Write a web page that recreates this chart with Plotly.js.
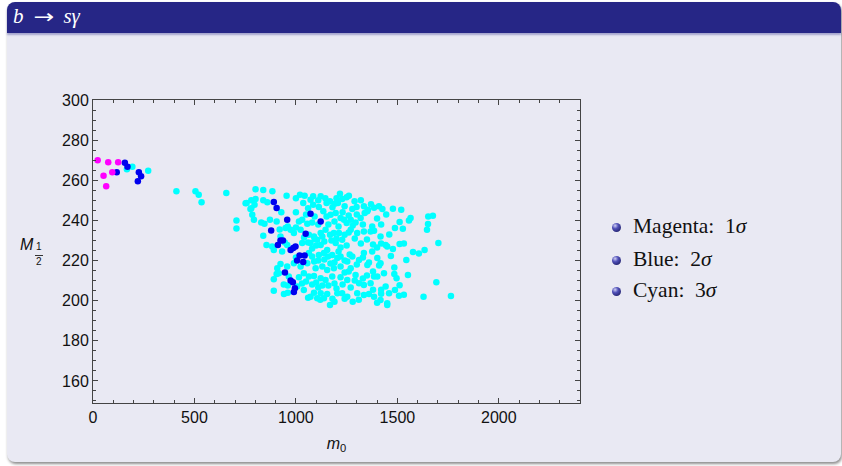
<!DOCTYPE html>
<html><head><meta charset="utf-8">
<script src="https://cdn.plot.ly/plotly-3.0.1.min.js"></script>
<style>
html,body{margin:0;padding:0;background:#fff;}
#wrap{position:relative;width:842px;height:466px;overflow:hidden;}
#block{position:absolute;left:7px;top:2px;width:834px;height:460px;background:#E9E9F3;border-radius:8px;box-shadow:1px 2px 3px rgba(0,0,0,0.45);}
#bar{position:absolute;left:7px;top:2px;width:834px;height:31px;background:#262686;border-radius:8px 8px 0 0;box-shadow:0 2px 2px rgba(38,38,134,0.35);}
#ttl{position:absolute;left:13px;top:5px;color:#fff;font-family:'Liberation Serif',serif;font-size:21px;line-height:22px;white-space:nowrap;}
#ttl .ar{display:inline-block;font-family:'DejaVu Sans',sans-serif;font-size:19px;transform:scaleX(1.3);margin:0 12px 0 12px;}
#plot{position:absolute;left:0;top:0;width:842px;height:466px;}
.item{position:absolute;left:633px;font-family:'Liberation Serif',serif;font-size:21.5px;line-height:24px;color:#111;white-space:nowrap;}
.ball{position:absolute;left:612px;width:9px;height:9px;border-radius:50%;background:radial-gradient(circle at 35% 30%,#d0d0f4 0%,#5050b8 35%,#22226e 80%,#10104a 100%);}
.yt{position:absolute;font-family:'Liberation Sans',Arial,sans-serif;color:#111;white-space:nowrap;}
</style></head>
<body>
<div id="wrap">
  <div id="block"></div>
  <div id="bar"></div>
  <div id="ttl"><i>b</i><span class="ar">→</span><i>sγ</i></div>
  <div id="plot"></div>
  <div class="yt" style="left:20px;top:236px;font-size:16px;font-style:italic;line-height:18px;">M</div>
  <div class="yt" style="left:36px;top:241px;font-size:10px;line-height:11px;">1</div>
  <div style="position:absolute;left:35px;top:255px;width:8px;height:1px;background:#333;"></div>
  <div class="yt" style="left:36px;top:256px;font-size:10px;line-height:11px;">2</div>
  <div class="ball" style="top:223px;"></div>
  <div class="item" style="top:214px;">Magenta:&nbsp; 1<i>σ</i></div>
  <div class="ball" style="top:256px;"></div>
  <div class="item" style="top:247px;">Blue:&nbsp; 2<i>σ</i></div>
  <div class="ball" style="top:287px;"></div>
  <div class="item" style="top:278px;">Cyan:&nbsp; 3<i>σ</i></div>
</div>
<script>
// m0 (x) and M_1/2 (y) values
var cyanX = [194,167,272,411,505,521,535,657,801,839,884,707,707,752,780,780,
757,801,796,839,859,954,1020,1043,1036,1072,1085,1122,1085,1113,1151,1168,1191,1217,1228,1207,1261,1289,1299,1278,1335,1355,1385,1409,1426,
776,785,793,829,845,872,905,928,1015,1031,1056,1092,1135,1151,1171,1196,1220,1237,1250,1270,1294,1319,1339,1352,1376,
839,924,949,974,990,1023,1064,1089,1105,1130,1122,1146,1168,1187,1212,1240,1270,1302,1335,1368,1385,1417,1442,855,883,957,1031,1072,1092,1122,1154,1196,1228,
891,932,1064,1080,1113,1138,1158,1179,1204,1220,1253,1278,1311,1335,1376,1401,1417,908,924,957,990,1023,1056,1097,1130,1154,1187,1220,1270,1294,1352,1385,1434,
916,891,905,965,1015,1039,1064,1089,1122,1146,1179,1220,1253,1311,1335,1368,1401,1442,
891,941,960,1006,1039,1072,1089,1105,1122,1154,1138,1168,1204,1228,1253,1302,1335,1360,1385,1417,1450,1459,
1478,1519,1511,1488,1527,1565,1557,1652,1675,1651,1646,1450,1478,1511,1532,1468,1577,1606,1634,1702,1544,1485,1485,1496,1552,1511,1488,1692,1508,1532,1629,1764,1450,
1000,1060,1110,1145,1180,1240,1250,1320,1370,1200,
1000,1050,1080,1110,1160,1190,1210,1230,1260,1280,1300,1330,1400,1420,1445,960,1000,
1040,1060,1080,1100,1140,1175,1200,1220,1250,1260,1290,1320,1350,1380,1400,1420,1460,920,945,
1000,1090,1110,1140,1170,1190,1210,1240,1265,1300,1330,1360,1380,1410,1260,1240,
940,960,1030,1050,1080,1100,1110,1130,1160,1190,1200,1230,1270,1290,1330,1350,1420,1380,
1060,1120,1180,1190,1240,1280,1310,1420,1400];
var cyanY = [266.7,265.5,264.7,254.5,254.5,252.8,249,253.7,255.5,255.2,254.5,240,236,248.5,250,246,
248.7,250.7,247.8,250,249,252.3,252.8,252.3,248.7,250.3,252,252,247.8,246.7,248.7,249.5,248.3,253.3,250.7,248.7,252.3,249.5,246.7,245.7,247,245.3,246.3,247,245.7,
245.7,242.8,240.3,239,238.3,240.3,239.5,244,239.5,240.3,238.3,242,244.5,242,242.8,243.7,241.2,240.3,238.7,240.3,239,241.2,243.7,244.5,237,
232.3,232,236.2,235.3,233.7,235.3,232.8,232,230.3,232,233.7,235.3,232.8,233.7,233.7,232.8,235.3,233.7,234.5,234.5,234.8,232,227.8,227.8,227,227.8,228.7,228.7,230.7,227.8,225.3,228.7,230.3,
225.3,224.5,223.7,222,222.8,223.7,222,222.8,221.2,222,219.5,222,220.3,223.7,224.5,221.2,218.7,216.2,218.3,217,218.7,217,218.7,216.2,217,215.3,216.2,217,216.2,212.8,217.8,212,213.7,
213.7,210.7,213.3,212,211.7,213.7,212,212.3,211.2,210.3,212,211.7,210.3,208.7,207.8,208.7,212,207,
205,203.3,204,207,205.3,202,204,201.2,203.7,203.3,201.2,197.8,203.7,203.7,202,203.7,202.8,203.3,202,200.3,198.7,203.7,
245.8,245.3,239.2,236.2,235.8,241.2,240,242,242.3,238.2,235.3,227,225.7,228.2,228.5,222.3,224.2,223.5,225.2,228.7,220.3,216.5,213.3,211.2,212.8,207.7,205.3,209.2,202.5,203,202,202.3,197.8,
251,246,250,251,246.5,247,251.5,250,248,251,
244,243,239,238,238,239.5,237,244,242.5,237.5,243,238,241,238,243,237,236.5,
231.5,229,226,227.5,229.5,230,231,226.5,227.5,234,231,228.5,230.5,228,226.5,228.5,233,235.5,229,
221.5,219.5,220,220.5,218.5,219,224.5,220,223,218,221.5,219,214.5,217.5,214.5,214,
208,207.5,208.5,209.5,208,209,206.5,207.5,207.5,208.5,206,208,206.5,210,211,212.5,205.5,205.5,
201.5,200.5,201,199.5,201,199.5,200.5,203.5,199];
var blueX = [157,170,117,226,237,221,
891,905,957,1072,1122,878,1048,911,924,936,974,987,998,1018,1043,1006,1036,946,974,985,995,990];
var blueY = [268.7,266.7,264,264,262,259.5,
249.2,246.2,240.3,243.3,239.5,235,233.3,227.8,230,230,225.3,226.2,227,222.5,222.5,220,219.3,214,210,209.2,206.2,204.3];
var magentaX = [23,75,124,52,95,65];
var magentaY = [270,269,269,262.3,264,257];

var xTicks = [0,500,1000,1500,2000];
var yTicks = [160,180,200,220,240,260,280,300];

function tr(x,y,c){return {type:'scatter',mode:'markers',x:x,y:y,hoverinfo:'skip',
  marker:{color:c,size:6.5,line:{width:0}},showlegend:false};}

var axCommon = {showline:true,linecolor:'#444',linewidth:1,mirror:'ticks',ticks:'inside',ticklen:5,tickcolor:'#444',tickwidth:1,
  showgrid:false,zeroline:false,tickfont:{family:'Liberation Sans, Arial, sans-serif',size:16,color:'#111'}};

var layout = {
  width:842,height:466,
  margin:{l:93,r:262,t:100,b:63,pad:0},
  paper_bgcolor:'rgba(0,0,0,0)',plot_bgcolor:'rgba(0,0,0,0)',
  showlegend:false,
  xaxis:Object.assign({},axCommon,{range:[0,2400],tickvals:xTicks,ticktext:xTicks.map(String),
    minor:{ticks:'inside',ticklen:3,dtick:100,tick0:0,tickcolor:'#444',showgrid:false},
    title:{text:'<i>m</i><sub>0</sub>',font:{family:'Liberation Sans, Arial, sans-serif',size:16,color:'#111'},standoff:12}}),
  yaxis:Object.assign({},axCommon,{range:[149,300],tickvals:yTicks,ticktext:yTicks.map(String),
    minor:{ticks:'inside',ticklen:3,dtick:5,tick0:0,tickcolor:'#444',showgrid:false}})
};
Plotly.newPlot('plot',[tr(cyanX,cyanY,'#00FFFF'),tr(blueX,blueY,'#0000EE'),tr(magentaX,magentaY,'#FF00FF')],layout,{staticPlot:true,displayModeBar:false});
</script>
</body></html>
